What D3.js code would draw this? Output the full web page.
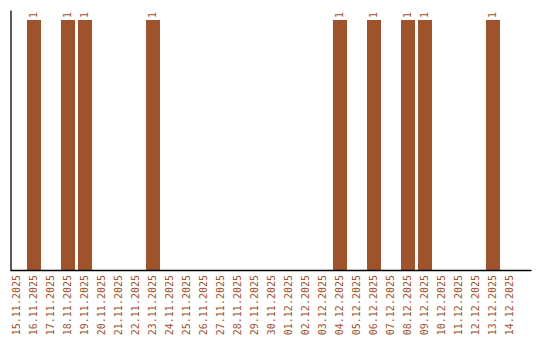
<!DOCTYPE html>
<html>
<head>
<meta charset="utf-8">
<script src="https://cdn.jsdelivr.net/npm/d3@7"></script>
<style>
  body { margin: 0; background: #fff; }
  svg { display: block; }
  text { font-family: "DejaVu Sans Mono", "Liberation Mono", monospace; }
</style>
</head>
<body>
<div id="chart"></div>
<script>
// dates on the x axis
const dates = [
  "15.11.2025", "16.11.2025", "17.11.2025", "18.11.2025", "19.11.2025",
  "20.11.2025", "21.11.2025", "22.11.2025", "23.11.2025", "24.11.2025",
  "25.11.2025", "26.11.2025", "27.11.2025", "28.11.2025", "29.11.2025",
  "30.11.2025", "01.12.2025", "02.12.2025", "03.12.2025", "04.12.2025",
  "05.12.2025", "06.12.2025", "07.12.2025", "08.12.2025", "09.12.2025",
  "10.12.2025", "11.12.2025", "12.12.2025", "13.12.2025", "14.12.2025"
];
// count per day
const counts = [
  0, 1, 0, 1, 1,
  0, 0, 0, 1, 0,
  0, 0, 0, 0, 0,
  0, 0, 0, 0, 1,
  0, 1, 0, 1, 1,
  0, 0, 0, 1, 0
];

const data = dates.map((d, i) => ({ date: d, value: counts[i] }));

const width = 540, height = 340;
const barColor = "#a0522d";

const svg = d3.select("#chart")
  .append("svg")
  .attr("width", width)
  .attr("height", height);

// x scale - bands start right at the y axis, extra room on the right
const x = d3.scaleBand()
  .domain(dates)
  .range([10, 531])
  .paddingInner(3 / 17)
  .paddingOuter(0.4118)
  .align(0);

const y = d3.scaleLinear()
  .domain([0, 1.04])
  .range([270, 10]);

// bars
svg.selectAll("rect.bar")
  .data(data.filter(d => d.value > 0))
  .enter()
  .append("rect")
  .attr("class", "bar")
  .attr("x", d => x(d.date))
  .attr("y", d => y(d.value))
  .attr("width", x.bandwidth())
  .attr("height", d => y(0) - y(d.value))
  .attr("fill", barColor);

// value labels
svg.selectAll("text.val")
  .data(data.filter(d => d.value > 0))
  .enter()
  .append("text")
  .attr("class", "val")
  .attr("transform", d => `translate(${x(d.date) + x.bandwidth() / 2},${y(d.value) - 2}) rotate(-90)`)
  .attr("dy", "0.35em")
  .attr("font-size", 10)
  .attr("fill", barColor)
  .text(d => d.value);

// x axis
const xAxis = svg.append("g")
  .attr("transform", "translate(0,270)")
  .call(d3.axisBottom(x).tickSize(0).tickSizeOuter(0));

xAxis.select(".domain").attr("stroke", "#000").attr("stroke-width", 1.3);
xAxis.selectAll(".tick text")
  .attr("font-size", 10)
  .attr("fill", barColor)
  .attr("text-anchor", "end")
  .attr("x", 0)
  .attr("y", 0)
  .attr("dy", "0.35em")
  .attr("transform", "translate(0,5) rotate(-90)");

// y axis, only the line
const yAxis = svg.append("g")
  .attr("transform", "translate(10.5,0)")
  .call(d3.axisLeft(y).tickValues([]).tickSizeOuter(0));

yAxis.select(".domain").attr("stroke", "#000").attr("stroke-width", 1.3);
</script>
</body>
</html>
